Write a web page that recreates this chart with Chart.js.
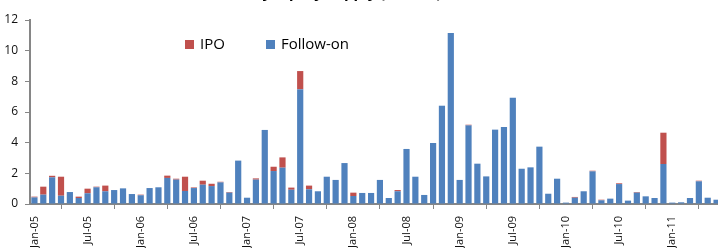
<!DOCTYPE html>
<html><head><meta charset="utf-8">
<script src="https://cdn.jsdelivr.net/npm/chart.js@4.4.1/dist/chart.umd.min.js"></script>
<style>
html,body{margin:0;padding:0;background:#fff;overflow:hidden;width:718px;height:248px;position:relative;}
#wrap{position:absolute;left:0;top:-30px;width:731px;height:282px;}
</style></head><body>
<div id="wrap"><canvas id="c" width="731" height="282"></canvas></div>
<script>
const categories = [
 'Jan-05','Feb-05','Mar-05','Apr-05','May-05','Jun-05','Jul-05','Aug-05','Sep-05','Oct-05','Nov-05','Dec-05',
 'Jan-06','Feb-06','Mar-06','Apr-06','May-06','Jun-06','Jul-06','Aug-06','Sep-06','Oct-06','Nov-06','Dec-06',
 'Jan-07','Feb-07','Mar-07','Apr-07','May-07','Jun-07','Jul-07','Aug-07','Sep-07','Oct-07','Nov-07','Dec-07',
 'Jan-08','Feb-08','Mar-08','Apr-08','May-08','Jun-08','Jul-08','Aug-08','Sep-08','Oct-08','Nov-08','Dec-08',
 'Jan-09','Feb-09','Mar-09','Apr-09','May-09','Jun-09','Jul-09','Aug-09','Sep-09','Oct-09','Nov-09','Dec-09',
 'Jan-10','Feb-10','Mar-10','Apr-10','May-10','Jun-10','Jul-10','Aug-10','Sep-10','Oct-10','Nov-10','Dec-10',
 'Jan-11','Feb-11','Mar-11','Apr-11','May-11','Jun-11'
];
const tickLabels = ['Jan-05','Jul-05','Jan-06','Jul-06','Jan-07','Jul-07','Jan-08','Jul-08','Jan-09','Jul-09','Jan-10','Jul-10','Jan-11'];
const yTicks = [0,2,4,6,8,10,12];
const followOn = [
 0.43,0.61,1.74,0.54,0.78,0.39,0.70,1.09,0.83,0.91,1.02,0.65,
 0.57,1.04,1.09,1.70,1.59,0.85,1.04,1.26,1.17,1.41,0.74,2.83,
 0.41,1.59,4.83,2.15,2.37,0.93,7.48,0.96,0.83,1.78,1.57,2.67,
 0.52,0.72,0.72,1.57,0.39,0.83,3.59,1.78,0.59,3.98,6.41,11.15,
 1.57,5.13,2.63,1.80,4.85,5.02,6.93,2.30,2.39,3.74,0.67,1.65,
 0.09,0.41,0.83,2.13,0.24,0.35,1.30,0.22,0.74,0.50,0.39,2.61,
 0.09,0.11,0.39,1.48,0.41,0.28
];
const ipo = [
 0.05,0.52,0.10,1.24,0,0.09,0.30,0.04,0.37,0,0,0,
 0.04,0,0,0.15,0.06,0.93,0.04,0.26,0.15,0.04,0.04,0,
 0,0.08,0,0.28,0.67,0.14,1.19,0.24,0,0,0,0,
 0.22,0,0,0,0,0.08,0,0,0,0,0,0,
 0,0.04,0,0,0,0,0,0,0,0,0,0,
 0,0.05,0,0.04,0.04,0,0.05,0,0.04,0,0,2.04,
 0,0,0,0.04,0,0
];
const titleText = 'Monthly equity supply (US$ bn)';

const titlePlugin = {
  id:'cutTitle',
  afterDraw(chart){
    const c = chart.ctx;
    c.save();
    c.font = 'bold 15px "Open Sans"';
    c.fillStyle = '#000';
    c.textAlign = 'center';
    c.textBaseline = 'alphabetic';
    c.fillText(titleText, 325, 27.5);
    c.restore();
  }
};
const legendPlugin = {
  id:'innerLegend',
  afterDraw(chart){
    const c = chart.ctx;
    const ds = chart.data.datasets;
    const items = [{d:ds[1], x:185}, {d:ds[0], x:266}];
    c.save();
    c.font = '15px "Open Sans"';
    c.textBaseline = 'middle';
    c.textAlign = 'left';
    items.forEach(it=>{
      c.fillStyle = it.d.backgroundColor;
      c.fillRect(it.x, 70, 9, 9);
      c.fillStyle = '#000';
      c.fillText(it.d.label, it.x + 15, 74.5);
    });
    c.restore();
  }
};

new Chart(document.getElementById('c'), {
  type:'bar',
  data:{
    labels:categories,
    datasets:[
      {label:'Follow-on', data:followOn, backgroundColor:'#4F81BD'},
      {label:'IPO', data:ipo, backgroundColor:'#C0504D'}
    ]
  },
  options:{
    responsive:false, animation:false, devicePixelRatio:1,
    layout:{padding:{left:0,right:10,top:50,bottom:0}},
    plugins:{legend:{display:false}, tooltip:{enabled:false}, title:{display:false}},
    datasets:{bar:{categoryPercentage:1, barPercentage:0.7}},
    scales:{
      x:{
        stacked:true, offset:true,
        grid:{display:true, drawOnChartArea:false, offset:true, tickLength:5, color:'#868686', tickWidth:1},
        border:{color:'#868686', width:2},
        ticks:{autoSkip:false, minRotation:90, maxRotation:90, padding:7,
          font:{family:'Open Sans', size:11}, color:'#111',
          callback:function(v,i){ const l = categories[i]; return tickLabels.includes(l) ? l : null; }},
        afterFit(s){ s.height = 48; s.paddingLeft = 0; s.paddingRight = 0; }
      },
      y:{
        stacked:true, min:0, max:12,
        afterBuildTicks(s){ s.ticks = yTicks.map(v=>({value:v})); },
        grid:{display:true, drawOnChartArea:false, tickLength:5, color:'#868686'},
        border:{color:'#868686', width:2},
        ticks:{padding:7, font:{family:'Open Sans', size:12}, color:'#111'},
        afterFit(s){ s.width = 30; s.paddingTop = 0; s.paddingBottom = 0; }
      }
    }
  },
  plugins:[titlePlugin, legendPlugin]
});
</script>
</body></html>
